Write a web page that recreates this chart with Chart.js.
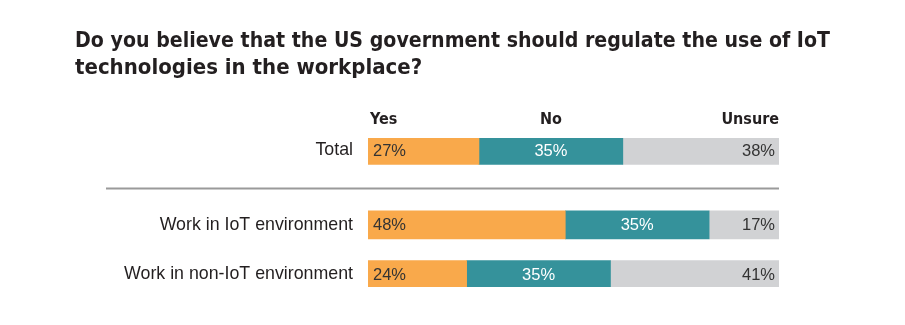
<!DOCTYPE html>
<html>
<head>
<meta charset="utf-8">
<script src="https://cdn.jsdelivr.net/npm/chart.js@4.4.1/dist/chart.umd.min.js"></script>
<style>
  html, body { margin: 0; padding: 0; background: #fff; }
  #wrap { width: 905px; height: 325px; }
</style>
</head>
<body>
<div id="wrap"><canvas id="myChart"></canvas></div>
<script>
const titleLines = ['Do you believe that the US government should regulate the use of IoT', 'technologies in the workplace?'];
const categories = ['Total', 'Work in IoT environment', 'Work in non-IoT environment'];
const answers = ['Yes', 'No', 'Unsure'];
const yesValues = [27, 48, 24];
const noValues = [35, 35, 35];
const unsureValues = [38, 17, 41];

// rows on the axis, empty ones make the gap after "Total"
const rowOf = [0, 3, 5];
const rowCount = 6;

const narrow = '"Liberation Sans Narrow", "DejaVu Sans Condensed", sans-serif';
const regular = '"Liberation Sans", Arial, sans-serif';

function spread(values) {
  const out = new Array(rowCount).fill(null);
  values.forEach((v, i) => { out[rowOf[i]] = v; });
  return out;
}
const labels = spread(categories).map(l => l || '');

// two-line heading, drawn by hand so the first line is not squeezed to the plot width
const heading = {
  id: 'heading',
  afterDraw(chart) {
    const ctx = chart.ctx;
    ctx.save();
    ctx.font = 'bold 22px ' + narrow;
    ctx.fillStyle = '#231f20';
    ctx.textAlign = 'left';
    ctx.textBaseline = 'alphabetic';
    titleLines.forEach((line, i) => ctx.fillText(line, 75, 47 + i * 27, 755));
    ctx.restore();
  }
};

const segLabels = {
  id: 'segLabels',
  afterDatasetsDraw(chart) {
    const ctx = chart.ctx;
    ctx.save();
    ctx.font = '16.5px ' + regular;
    ctx.textBaseline = 'middle';
    chart.data.datasets.forEach((ds, di) => {
      const meta = chart.getDatasetMeta(di);
      meta.data.forEach((bar, i) => {
        const v = ds.data[i];
        if (v == null) return;
        const left = Math.min(bar.base, bar.x), right = Math.max(bar.base, bar.x);
        let x;
        if (di === 0) { ctx.textAlign = 'left'; x = left + 5; }
        else if (di === 1) { ctx.textAlign = 'center'; x = (left + right) / 2; }
        else { ctx.textAlign = 'right'; x = right - 4; }
        ctx.fillStyle = di === 1 ? '#ffffff' : '#333333';
        ctx.fillText(v + '%', x, bar.y + 1);
      });
    });

    // column headers above the Total bar
    ctx.font = 'bold 16px ' + narrow;
    ctx.fillStyle = '#231f20';
    ctx.textBaseline = 'alphabetic';
    const first = chart.data.datasets.map((ds, di) => chart.getDatasetMeta(di).data[rowOf[0]]);
    const top = first[0].y - first[0].height / 2 - 12;
    ctx.textAlign = 'left';
    ctx.fillText(answers[0], first[0].base + 2, top);
    ctx.textAlign = 'center';
    ctx.fillText(answers[1], (first[1].base + first[1].x) / 2, top);
    ctx.textAlign = 'right';
    ctx.fillText(answers[2], first[2].x, top);

    // separator between Total and the groups
    const ys = chart.scales.y;
    const sepY = Math.round((ys.getPixelForValue(rowOf[0]) + ys.getPixelForValue(rowOf[1])) / 2) + 0.5;
    ctx.strokeStyle = '#9a9a9a';
    ctx.lineWidth = 2;
    ctx.beginPath();
    ctx.moveTo(106, sepY);
    ctx.lineTo(chart.chartArea.right, sepY);
    ctx.stroke();
    ctx.restore();
  }
};

const ctx = document.getElementById('myChart');
new Chart(ctx, {
  type: 'bar',
  data: {
    labels: labels,
    datasets: [
      { label: answers[0], data: spread(yesValues), backgroundColor: '#F9A94B' },
      { label: answers[1], data: spread(noValues), backgroundColor: '#35929B' },
      { label: answers[2], data: spread(unsureValues), backgroundColor: '#D1D2D4' }
    ]
  },
  options: {
    indexAxis: 'y',
    responsive: true,
    maintainAspectRatio: false,
    animation: false,
    layout: { padding: { left: 75, right: 126, top: 138, bottom: 38 } },
    datasets: { bar: { barThickness: 28, borderWidth: 0 } },
    scales: {
      x: { stacked: true, min: 0, max: 100, display: false },
      y: {
        stacked: true,
        grid: { display: false, drawTicks: false },
        border: { display: false },
        ticks: {
          padding: 15,
          autoSkip: false,
          color: '#231f20',
          font: { family: regular, size: 17.8 }
        },
        afterFit(scale) { scale.width = 293; }
      }
    },
    plugins: {
      legend: { display: false },
      tooltip: { enabled: false },
      title: { display: false }
    }
  },
  plugins: [segLabels, heading]
});
</script>
</body>
</html>
